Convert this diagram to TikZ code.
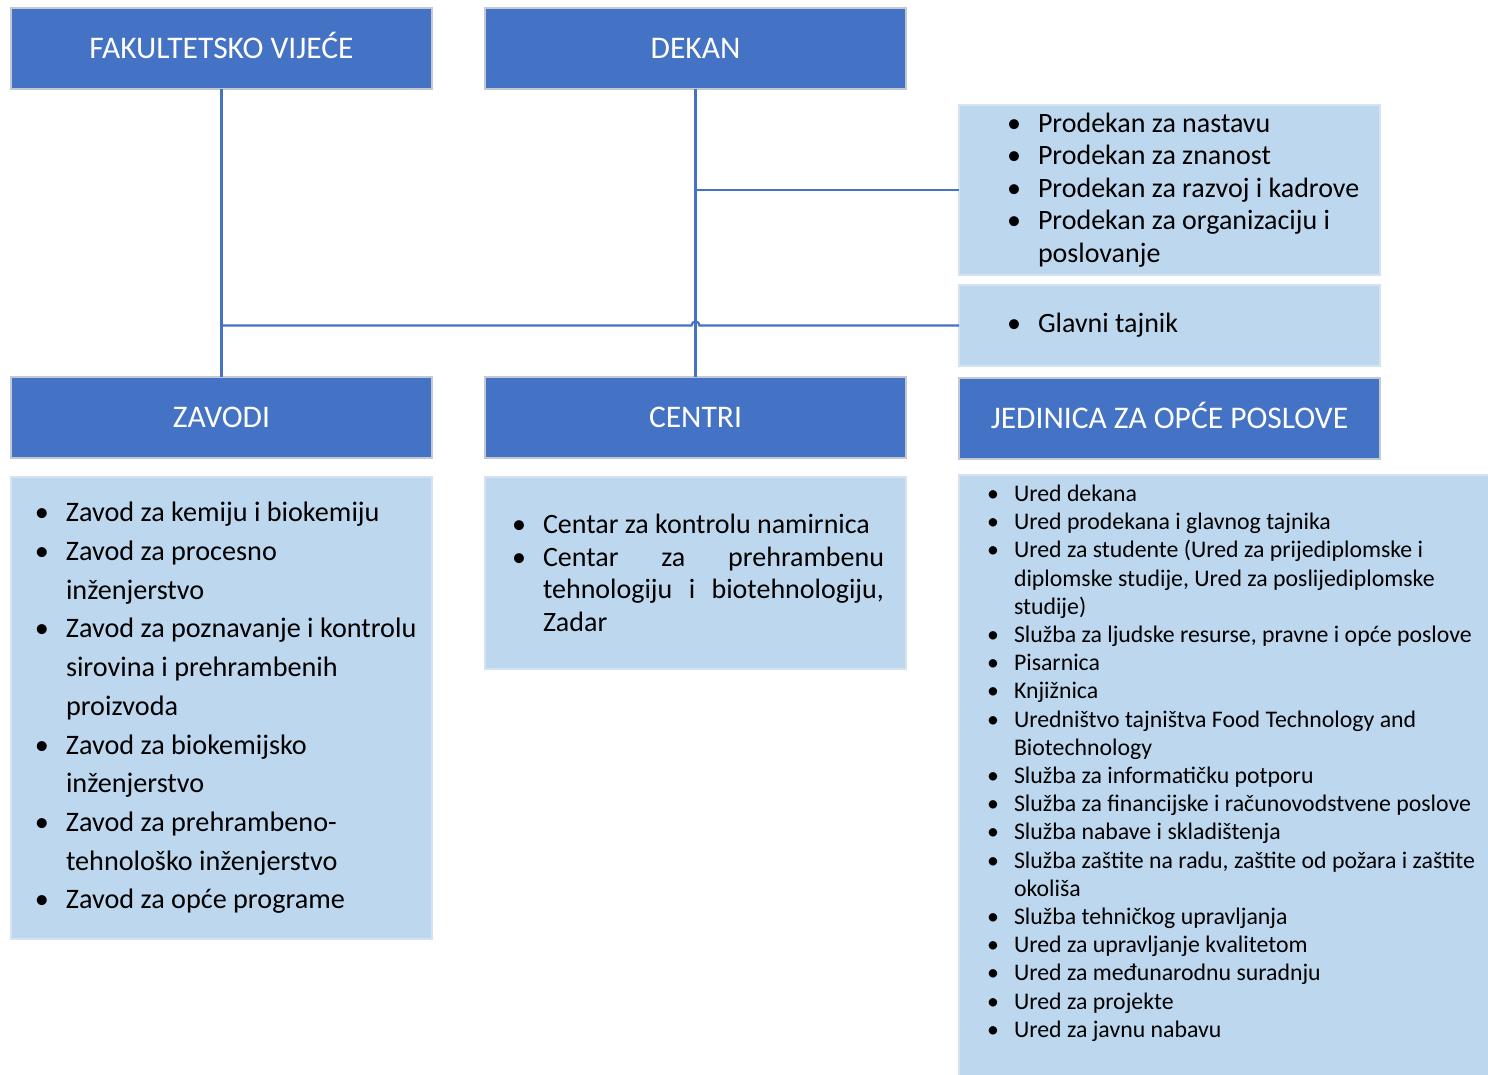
\documentclass[tikz,border=0pt]{standalone}
\usepackage{fontspec}
\setmainfont{Carlito}
\usetikzlibrary{positioning}
\definecolor{headblue}{HTML}{4472C4}
\definecolor{headline}{HTML}{C3C9D3}
\definecolor{listblue}{HTML}{BDD7EE}
\definecolor{listline}{HTML}{D5E3F1}
\newlength\bulletskip
\newlength\textskip
\newcommand\entryskips[2]{\setlength\bulletskip{#1}\setlength\textskip{#2}}
\newcommand\entry[1]{\noindent\spaceskip=0pt\xspaceskip=0pt
    \hangindent=\textskip\hangafter=1
    \makebox[\textskip][l]{\hspace{\bulletskip}\textbullet}#1\par}
\tikzset{
    head/.style={rectangle,draw=headline,fill=headblue,text=white,line width=1.5pt,
        minimum width=421pt,minimum height=81pt,inner sep=0pt,outer sep=0pt,
        text height=20.3pt,text depth=0pt,
        font=\fontsize{31.5}{36}\selectfont},
    list/.style={rectangle,draw=listline,fill=listblue,line width=1.5pt,
        minimum width=421pt,text width=421pt,inner sep=0pt,outer sep=0pt,align=left},
    big text/.style={font=\fontsize{28.2}{38.7}\selectfont},
    mid text/.style={font=\fontsize{28}{32.5}\selectfont},
    small text/.style={font=\fontsize{23.8}{28.2}\selectfont},
    link/.style={draw=headblue,line width=2.2pt}
}

\begin{document}
\begin{tikzpicture}[x=1pt,y=-1pt]

    \path[use as bounding box] (0,0) rectangle (1488,1075);
    \clip (0,0) rectangle (1488,1075);

    % top row
    \node[head] (fv) [anchor=north west] at (11,8) {FAKULTETSKO VIJEĆE};
    \node[head] (dekan) [right=53pt of fv] {DEKAN};

    \node[list,mid text,minimum height=170pt] (prodekani) [below right=16pt and 53pt of dekan.south east]
        {\entryskips{48pt}{79pt}%
         \entry{Prodekan za nastavu}
         \entry{Prodekan za znanost}
         \entry{Prodekan za razvoj i kadrove}
         \entry{Prodekan za organizaciju i\newline poslovanje}};
    \node[list,mid text,minimum height=81pt] (tajnik) [below=10pt of prodekani]
        {\entryskips{48pt}{79pt}%
         \entry{Glavni tajnik}};

    % second row
    \node[head] (zavodi) [below=288pt of fv] {ZAVODI}
        edge[link] (fv);
    \node[head] (centri) [below=288pt of dekan] {CENTRI}
        edge[link] (dekan);
    \node[head] (jedinica) [below=12pt of tajnik] {JEDINICA ZA OPĆE POSLOVE};

    % lists
    \node[list,big text,minimum height=462pt] (zavodi list) [below=19pt of zavodi]
        {\entryskips{24pt}{55pt}%
         \entry{Zavod za kemiju i biokemiju}
         \entry{Zavod za procesno\newline inženjerstvo}
         \entry{Zavod za poznavanje i kontrolu\newline sirovina i prehrambenih\newline proizvoda}
         \entry{Zavod za biokemijsko\newline inženjerstvo}
         \entry{Zavod za prehrambeno-\newline tehnološko inženjerstvo}
         \entry{Zavod za opće programe}};
    \node[list,mid text,minimum height=192pt,align=justify] (centri list) [below=19pt of centri]
        {\entryskips{27pt}{58pt}\rightskip=22pt%
         \entry{Centar za kontrolu namirnica}
         \entry{Centar za prehrambenu\linebreak tehnologiju i biotehnologiju,\linebreak Zadar}};
    \node[list,small text,text width=540pt,minimum width=540pt,inner ysep=10pt] (jedinica list) [below=16pt of jedinica.south west,anchor=north west]
        {\entryskips{28pt}{55pt}%
         \entry{Ured dekana}
         \entry{Ured prodekana i glavnog tajnika}
         \entry{Ured za studente (Ured za prijediplomske i\newline diplomske studije, Ured za poslijediplomske\newline studije)}
         \entry{Služba za ljudske resurse, pravne i opće poslove}
         \entry{Pisarnica}
         \entry{Knjižnica}
         \entry{Uredništvo tajništva Food Technology and\newline Biotechnology}
         \entry{Služba za informatičku potporu}
         \entry{Služba za financijske i računovodstvene poslove}
         \entry{Služba nabave i skladištenja}
         \entry{Služba zaštite na radu, zaštite od požara i zaštite\newline okoliša}
         \entry{Služba tehničkog upravljanja}
         \entry{Ured za upravljanje kvalitetom}
         \entry{Ured za međunarodnu suradnju}
         \entry{Ured za projekte}
         \entry{Ured za javnu nabavu}\vbox to 50pt{}};

    % connectors
    \coordinate (dekan line) at (dekan.south |- prodekani.west);
    \draw[link] (dekan line) -- (prodekani.west);
    \coordinate (fv line) at (fv.south |- tajnik.west);
    \coordinate (hop) at (dekan.south |- tajnik.west);
    \draw[link] (fv line) -- ([xshift=-4pt]hop) arc[start angle=180,end angle=0,radius=4pt] -- (tajnik.west);

\end{tikzpicture}
\end{document}
